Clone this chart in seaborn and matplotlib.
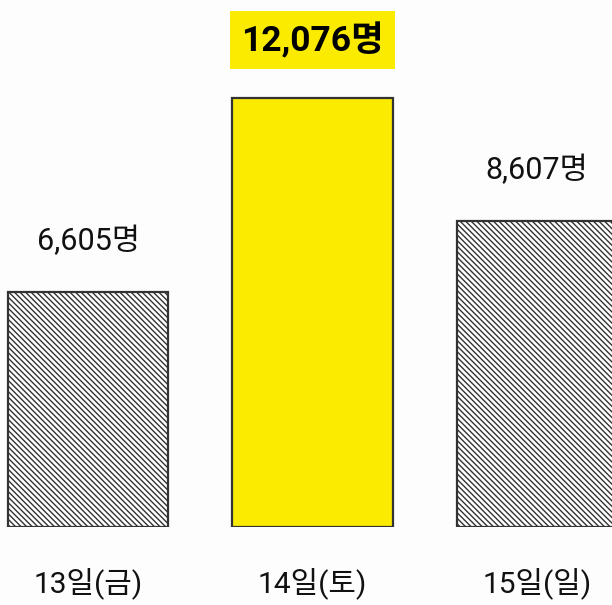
import numpy as np
import pandas as pd
import matplotlib
matplotlib.use("Agg")
import matplotlib.pyplot as plt
import seaborn as sns

# data
days = ["13일(금)", "14일(토)", "15일(일)"]
visitors = [6605, 12076, 8607]
labels = ["6,605명", "12,076명", "8,607명"]

yellow = "#FAEB00"
bg = "#FDFDFD"

sns.set_style("white")
plt.rcParams["font.family"] = ["Roboto", "Noto Sans CJK KR", "DejaVu Sans"]
plt.rcParams["hatch.linewidth"] = 1.0
plt.rcParams["hatch.color"] = "#1a1a1a"

df = pd.DataFrame({"day": days, "visitors": visitors})

fig = plt.figure(figsize=(6.12, 6.05), dpi=100, facecolor=bg)
ax = fig.add_axes([0, 0.129, 1, 0.871])
ax.set_facecolor(bg)

sns.barplot(data=df, x="day", y="visitors", hue="day",
            palette=["white", yellow, "white"], legend=False,
            width=0.713, edgecolor="#333333", linewidth=1.6, saturation=1, ax=ax)

# hatch the non-highlighted days
for i, p in enumerate(ax.patches):
    if i != 1:
        p.set_hatch("\\" * 6)

scale = 0.0355
ax.set_xlim(-0.392, 2.334)
ax.set_ylim(0, 527 / scale)

for i, (v, lab) in enumerate(zip(visitors, labels)):
    if i == 1:
        ax.text(i, ax.get_ylim()[1] - 40 / scale, lab, ha="center", va="center",
                fontsize=25.5, fontweight="bold", color="black",
                bbox=dict(boxstyle="square,pad=0.32", fc=yellow, ec="none"))
    else:
        ax.annotate(lab, (i, v), xytext=(0, 37), textcoords="offset points",
                    ha="center", va="center", fontsize=22, color="#111111")

ax.set_xlabel("")
ax.set_ylabel("")
ax.set_yticks([])
ax.tick_params(axis="x", length=0, pad=30, labelsize=21.5, labelcolor="#111111")
sns.despine(ax=ax, left=True, bottom=True)

fig.savefig("out.png", dpi=100, facecolor=bg)
